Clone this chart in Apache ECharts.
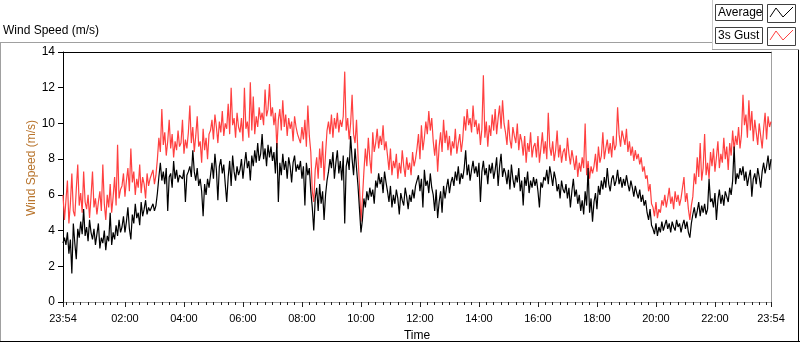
<!DOCTYPE html>
<html>
<head>
<meta charset="utf-8">
<style>
  html, body { margin: 0; padding: 0; background: #fff; }
  #chart { width: 800px; height: 342px; }
</style>
<script src="https://cdn.jsdelivr.net/npm/echarts@6/dist/echarts.min.js"></script>
</head>
<body>
<div id="chart"></div>
<script>
// minutes from midnight; the first sample is 23:54 of the day before
const startMinute = -6;
const stepMinutes = 3;

// Average wind speed (m/s), one row per hour starting at hh-1:54
const averageSpeed = [
  3.3, 3.6, 3.2, 3.9, 2.7, 3.5, 1.6, 4.4, 3.3, 2.4, 4.1, 3.6, 4.5, 3.8, 5.2, 3.7, 4.2, 3.4, 4.6, 3.9,
  3.5, 4.1, 3.2, 3.8, 4.4, 3.0, 3.6, 3.3, 4.0, 2.9, 3.7, 3.4, 5.0, 3.2, 3.9, 3.5, 4.3, 3.7, 4.6, 3.9,
  4.2, 4.8, 3.9, 4.5, 5.3, 4.1, 3.5, 4.9, 4.4, 5.5, 4.7, 5.0, 4.3, 5.6, 4.8, 5.2, 5.7, 4.9, 5.3, 5.1,
  5.2, 5.5, 5.1, 5.4, 6.1, 7.0, 7.8, 6.8, 7.3, 6.6, 7.5, 5.1, 7.0, 7.2, 6.4, 7.9, 6.9, 7.4, 6.7, 7.1,
  7.2, 6.9, 7.4, 5.6, 7.1, 7.3, 7.6, 7.0, 8.5, 7.3, 6.8, 7.5, 6.5, 6.9, 6.2, 4.8, 6.6, 6.0, 6.9, 6.4,
  7.1, 7.8, 6.9, 8.3, 7.4, 5.7, 7.6, 8.0, 7.2, 7.7, 6.6, 5.6, 7.0, 7.9, 6.5, 8.2, 7.3, 6.8, 7.6, 7.1,
  7.4, 8.0, 6.9, 7.7, 8.4, 7.5, 7.9, 6.8, 8.2, 7.6, 8.5, 7.8, 8.9, 7.9, 8.3, 9.4, 8.0, 8.6, 7.6, 8.8,
  8.1, 8.7, 7.9, 8.4, 7.2, 8.9, 5.6, 7.8, 7.1, 8.3, 7.4, 7.9, 6.9, 8.1, 7.6, 6.7, 7.8, 8.2, 7.3, 7.7,
  7.4, 7.9, 6.9, 7.6, 5.4, 7.8, 7.1, 7.5, 6.2, 5.3, 4.0, 5.8, 6.4, 5.1, 6.6, 5.5, 6.2, 4.6, 6.0, 6.8,
  7.3, 8.0, 7.5, 8.4, 6.9, 7.8, 8.5, 7.2, 7.9, 6.8, 8.2, 4.4, 7.6, 8.1, 7.4, 9.3, 8.0, 7.1, 8.6, 7.5,
  6.5, 5.2, 3.9, 4.6, 5.8, 5.3, 6.2, 5.7, 6.4, 5.9, 6.3, 5.5, 6.8, 6.4, 7.2, 6.6, 7.0, 6.1, 7.3, 6.7,
  6.2, 5.6, 6.5, 5.3, 6.0, 5.5, 6.3, 5.8, 4.9, 6.1, 5.7, 5.4, 6.4, 5.9, 5.2, 6.0, 5.6, 6.3, 5.8, 6.5,
  6.6, 7.1, 6.2, 6.9, 5.3, 7.4, 6.5, 6.8, 6.1, 7.2, 6.4, 6.0, 5.1, 6.3, 4.7, 5.6, 6.2, 5.0, 6.5, 5.8,
  6.4, 6.9, 6.1, 6.7, 7.0, 6.5, 7.3, 6.8, 7.6, 6.6, 7.2, 6.9, 7.5, 8.5, 7.1, 7.7, 6.8, 7.4, 7.9, 7.2,
  7.6, 7.0, 7.8, 5.6, 7.3, 7.9, 7.1, 7.5, 6.6, 7.7, 7.2, 7.8, 6.9, 7.4, 8.1, 6.5, 7.6, 8.3, 7.0, 7.5,
  7.2, 6.6, 7.4, 6.3, 7.7, 6.9, 6.4, 7.1, 6.7, 7.5, 6.2, 6.8, 5.4, 7.0, 6.5, 7.3, 6.1, 6.8, 6.4, 7.0,
  6.5, 6.9, 6.2, 5.3, 6.7, 6.4, 7.0, 6.8, 7.4, 6.6, 7.6, 7.1, 6.5, 7.3, 6.9, 6.2, 6.6, 5.8, 6.8, 6.3,
  6.1, 6.6, 5.8, 6.4, 5.3, 6.2, 6.9, 5.9, 6.3, 5.5, 6.0, 5.1, 5.7, 4.9, 6.2, 5.4, 7.5, 5.0, 5.8, 4.5,
  5.6, 6.1, 5.2, 6.5, 6.0, 6.8, 6.3, 7.0, 6.4, 7.5, 6.6, 6.2, 6.9, 7.1, 6.5, 6.8, 7.4, 6.6, 7.0, 6.4,
  6.9, 6.5, 7.1, 6.6, 6.2, 6.8, 6.4, 5.9, 6.5, 6.1, 5.8, 6.3, 5.6, 6.0, 5.4, 5.7, 5.0, 4.6, 5.2, 4.3,
  4.1, 3.8, 4.4, 3.7, 4.2, 3.9, 4.5, 4.0, 4.3, 4.6, 4.1, 4.4, 3.9, 4.5, 4.2, 4.0, 4.6, 4.2, 4.4, 3.9,
  4.3, 4.6, 4.1, 4.5, 3.9, 3.6, 4.4, 4.9, 5.3, 4.7, 5.1, 5.6, 4.8, 5.4, 5.0, 5.5, 4.9, 5.2, 6.9, 5.6,
  5.8, 5.3, 6.1, 4.6, 5.7, 6.3, 5.5, 6.0, 5.4, 6.2, 5.9, 5.6, 6.4, 6.0, 6.8, 8.7, 6.6, 7.2, 6.9, 7.5,
  7.1, 7.6, 6.8, 7.3, 6.5, 7.0, 7.4, 5.9, 6.9, 7.2, 6.6, 7.5, 7.0, 6.4, 7.3, 7.8, 7.2, 7.6, 8.2, 7.4,
  8.0
];

// 3 second gust (m/s), same sampling
const gustSpeed = [
  6.0, 4.6, 5.7, 6.8, 4.4, 5.5, 7.2, 5.1, 4.8, 6.3, 7.7, 5.4, 6.1, 5.0, 7.3, 5.6, 5.2, 6.0, 4.7, 5.9,
  7.3, 5.3, 5.8, 4.9, 5.6, 6.2, 5.1, 7.7, 5.5, 4.6, 6.0, 5.3, 6.6, 5.0, 5.9, 7.0, 5.4, 8.8, 5.8, 6.3,
  6.5, 7.2, 5.9, 6.8, 7.5, 6.2, 8.6, 6.7, 7.3, 6.0, 6.9, 6.4, 7.7, 6.1, 7.0, 6.6, 5.8, 7.2, 6.5, 6.9,
  6.8, 7.4, 6.6, 7.1, 8.0, 9.2, 8.4, 10.8, 8.8, 9.5, 8.2, 9.0, 10.2, 8.6, 9.4, 8.1, 9.0, 8.5, 9.6, 8.7,
  8.9, 10.2, 8.3, 9.1, 8.6, 9.5, 11.0, 8.9, 9.8, 8.4, 9.3, 10.4, 8.7, 9.0, 7.8, 9.7, 8.5, 9.2, 8.0, 9.4,
  9.6, 10.2, 9.1, 10.5, 9.8, 8.9, 10.1, 9.5, 10.7, 9.3, 10.0, 9.7, 11.1, 9.4, 12.0, 9.9, 10.3, 9.2, 10.6, 9.8,
  9.5, 10.3, 9.0, 12.0, 9.7, 10.1, 9.2, 12.3, 9.6, 11.5, 9.4, 10.4, 9.8, 10.9, 10.2, 10.6, 9.9, 11.9, 10.4, 10.8,
  12.2, 10.4, 10.9, 9.9, 10.6, 8.6, 10.2, 10.8, 9.6, 11.3, 9.8, 10.5, 9.3, 10.3, 9.7, 10.1, 9.0, 10.4, 9.8, 9.4,
  9.5, 8.9, 9.8, 9.1, 10.2, 8.7, 11.0, 9.3, 8.4, 6.2, 5.6, 7.4, 8.1, 6.9, 8.6, 7.5, 9.0, 6.8, 8.3, 9.6,
  10.1, 9.4, 10.5, 9.2, 10.3, 9.7, 10.6, 9.5, 10.2, 9.8, 10.4, 12.9, 9.6, 10.3, 9.1, 10.0, 11.6, 9.4, 8.9, 10.2,
  8.2, 6.5, 4.5, 5.8, 7.3, 8.6, 7.6, 9.2, 8.0, 7.2, 9.5, 8.4, 8.9, 9.7, 8.6, 9.3, 8.8, 9.9, 8.5, 9.0,
  8.2, 7.4, 8.6, 7.1, 7.9, 7.5, 8.3, 6.9, 7.8, 7.2, 8.5, 7.6, 7.0, 8.1, 7.4, 7.8, 7.1, 8.4, 7.6, 8.0,
  8.6, 9.4, 8.0, 9.9, 8.5, 9.2, 10.1, 9.4, 10.7, 9.6, 10.3, 9.0, 8.2, 9.1, 7.3, 8.7, 9.5, 8.4, 10.2, 8.9,
  9.6, 8.5, 9.3, 8.2, 9.0, 8.6, 9.7, 8.3, 8.9, 9.4, 8.4, 9.1, 10.4, 9.6, 10.8, 9.9, 10.3, 9.5, 11.0, 9.8,
  10.2, 9.4, 10.0, 8.8, 9.7, 12.7, 9.2, 10.1, 8.7, 9.9, 9.3, 10.5, 9.6, 10.8, 9.4, 10.3, 11.0, 9.7, 11.3, 10.0,
  9.5, 8.8, 10.2, 9.1, 8.6, 9.8, 9.3, 8.9, 10.0, 8.5, 9.4, 9.0, 8.2, 9.3, 7.8, 8.9, 8.4, 9.5, 8.1, 8.7,
  8.9, 8.1, 9.3, 7.8, 8.6, 9.5, 8.3, 9.0, 8.0, 10.6, 8.7, 8.2, 9.0, 7.9, 8.5, 9.6, 8.1, 8.8, 7.8, 8.4,
  8.6, 7.9, 9.2, 8.3, 7.7, 8.5, 8.0, 7.4, 8.2, 7.0, 7.8, 7.3, 8.1, 7.5, 10.0, 7.1, 7.9, 6.9, 7.6, 7.2,
  7.6, 8.3, 7.3, 8.7, 7.8, 8.2, 9.5, 8.0, 8.6, 9.1, 8.3, 8.9, 8.1, 9.3, 8.5, 8.8, 10.9, 9.4, 8.7, 9.6,
  9.2, 8.8, 9.7, 8.4, 9.0, 8.2, 8.7, 7.9, 8.5, 8.0, 8.3, 7.7, 8.1, 7.3, 7.6, 6.9, 7.1, 6.2, 6.6, 5.5,
  5.3, 4.8, 5.6, 4.7, 5.2, 5.0, 5.7, 5.4, 6.0, 5.3, 5.8, 6.4, 5.5, 5.9, 5.2, 6.2, 5.6, 6.0, 5.4, 5.8,
  5.9, 7.0, 5.6, 6.1, 5.2, 4.6, 5.4, 5.9, 7.2, 6.6, 8.1, 7.0, 8.9, 6.8, 7.5, 9.4, 7.1, 7.8, 6.9, 8.4,
  7.6, 8.6, 7.3, 8.1, 9.0, 7.5, 8.3, 7.8, 9.2, 8.0, 8.7, 7.4, 8.9, 8.2, 9.6, 8.5, 9.3, 8.8, 9.8, 8.6,
  9.4, 11.6, 9.9, 10.5, 9.2, 11.3, 9.6, 10.7, 9.0, 10.2, 9.5, 8.8, 10.0, 9.3, 8.6, 9.7, 10.6, 9.1, 10.4, 9.8,
  10.1
];

// labelled time ticks (minutes), 23:54 .. 23:54
const labelMinutes = [-6, 120, 240, 360, 480, 600, 720, 840, 960, 1080, 1200, 1320, 1434];
const seriesNames = ['Average', '3s Gust'];

const font = '"Liberation Sans", Arial, sans-serif';

function clock(v) {
  const m = ((Math.round(v) % 1440) + 1440) % 1440;
  const hh = Math.floor(m / 60);
  const mm = m % 60;
  return (hh < 10 ? '0' : '') + hh + ':' + (mm < 10 ? '0' : '') + mm;
}

const minorTicks = [];
for (let t = 0; t < 1434; t += 15) {
  if (t % 120 !== 0 || t === 0) minorTicks.push(t);
}

const toPairs = arr => arr.map((v, i) => [startMinute + i * stepMinutes, v]);

const chart = echarts.init(document.getElementById('chart'), null, { renderer: 'canvas' });

const xBase = { type: 'value', min: -6, max: 1434, splitLine: { show: false } };
const yBase = { type: 'value', min: 0, max: 14, interval: 2, splitLine: { show: false } };

chart.setOption({
  animation: false,
  grid: { left: 63, top: 52, width: 708, height: 250, containLabel: false, outerBoundsMode: 'none' },
  xAxis: [
    Object.assign({}, xBase, {
      position: 'bottom',
      axisLine: { show: true, onZero: false, lineStyle: { color: '#a0a0a0', width: 1 } },
      axisTick: { show: true, customValues: minorTicks, length: 3, lineStyle: { color: '#202020' } },
      axisLabel: {
        customValues: labelMinutes, formatter: clock, margin: 11,
        fontSize: 11, color: '#000', fontFamily: font
      },
      name: 'Time', nameLocation: 'middle', nameGap: 28,
      nameTextStyle: { fontSize: 12, color: '#000', fontFamily: font }
    }),
    Object.assign({}, xBase, {
      position: 'bottom',
      axisLine: { show: false, onZero: false },
      axisTick: { show: true, customValues: labelMinutes, length: 5, lineStyle: { color: '#202020' } },
      axisLabel: { show: false }
    }),
    Object.assign({}, xBase, {
      position: 'top',
      axisLine: { show: true, onZero: false, lineStyle: { color: '#000', width: 1 } },
      axisTick: { show: false },
      axisLabel: { show: false }
    })
  ],
  yAxis: [
    Object.assign({}, yBase, {
      position: 'left',
      axisLine: { show: true, onZero: false, lineStyle: { color: '#000', width: 1 } },
      axisTick: { show: true, length: 5, lineStyle: { color: '#000' } },
      axisLabel: { margin: 8, fontSize: 12, color: '#000', fontFamily: font }
    }),
    Object.assign({}, yBase, {
      position: 'right',
      axisLine: { show: true, onZero: false, lineStyle: { color: '#a0a0a0', width: 1 } },
      axisTick: { show: false },
      axisLabel: { show: false }
    })
  ],
  series: [
    {
      name: seriesNames[1], type: 'line', data: toPairs(gustSpeed),
      showSymbol: false, symbol: 'none', silent: true,
      lineStyle: { color: '#ff4040', width: 1.2 }
    },
    {
      name: seriesNames[0], type: 'line', data: toPairs(averageSpeed),
      showSymbol: false, symbol: 'none', silent: true,
      lineStyle: { color: '#000', width: 1.2 }
    }
  ],
  graphic: [
    // outer frame
    { type: 'line', shape: { x1: 0, y1: 42.5, x2: 712, y2: 42.5 }, style: { stroke: '#a0a0a0', lineWidth: 1 } },
    { type: 'line', shape: { x1: 0.5, y1: 42, x2: 0.5, y2: 342 }, style: { stroke: '#a0a0a0', lineWidth: 1 } },
    { type: 'line', shape: { x1: 0, y1: 341.5, x2: 800, y2: 341.5 }, style: { stroke: '#000', lineWidth: 1 } },
    { type: 'line', shape: { x1: 798.5, y1: 49, x2: 798.5, y2: 342 }, style: { stroke: '#000', lineWidth: 1 } },
    { type: 'line', shape: { x1: 712.5, y1: 0, x2: 712.5, y2: 49.5 }, style: { stroke: '#c8c8c8', lineWidth: 1 } },
    { type: 'line', shape: { x1: 712, y1: 49.5, x2: 799, y2: 49.5 }, style: { stroke: '#a0a0a0', lineWidth: 1 } },
    // chart title
    { type: 'text', x: 3, y: 31, style: { text: 'Wind Speed (m/s)', font: '12px ' + font, fill: '#000', verticalAlign: 'middle' } },
    // y axis name
    { type: 'text', x: 32, y: 168, rotation: Math.PI / 2,
      style: { text: 'Wind Speed (m/s)', font: '12px ' + font, fill: '#b8742c', align: 'center', verticalAlign: 'middle' } },
    // legend
    { type: 'rect', shape: { x: 715.5, y: 4.5, width: 47, height: 16 }, style: { fill: '#fff', stroke: '#404040', lineWidth: 1 } },
    { type: 'text', x: 718, y: 12.5, style: { text: seriesNames[0], font: '12px ' + font, fill: '#000', verticalAlign: 'middle' } },
    { type: 'rect', shape: { x: 767.5, y: 4.5, width: 28, height: 18 }, style: { fill: '#fff', stroke: '#404040', lineWidth: 1 } },
    { type: 'polyline', shape: { points: [[770, 17], [776, 8], [783, 17], [793, 7]] }, style: { stroke: '#000', lineWidth: 1, fill: null } },
    { type: 'rect', shape: { x: 715.5, y: 27.5, width: 47, height: 16 }, style: { fill: '#fff', stroke: '#404040', lineWidth: 1 } },
    { type: 'text', x: 718, y: 35.5, style: { text: seriesNames[1], font: '12px ' + font, fill: '#000', verticalAlign: 'middle' } },
    { type: 'rect', shape: { x: 767.5, y: 27.5, width: 28, height: 18 }, style: { fill: '#fff', stroke: '#404040', lineWidth: 1 } },
    { type: 'polyline', shape: { points: [[770, 40], [776, 31], [783, 40], [793, 30]] }, style: { stroke: '#ff4040', lineWidth: 1, fill: null } }
  ]
});
</script>
</body>
</html>
